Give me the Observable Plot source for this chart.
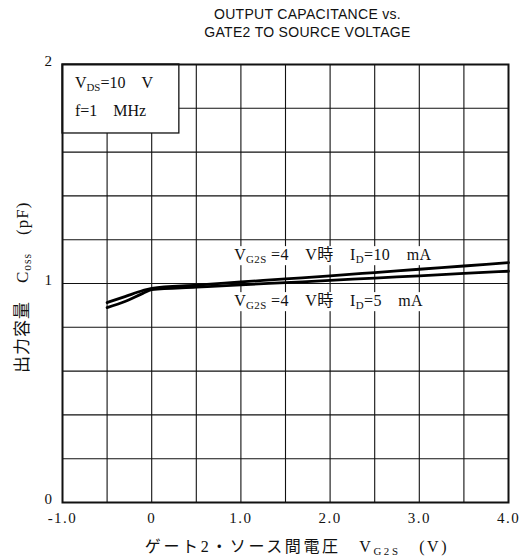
<!DOCTYPE html>
<html>
<head>
<meta charset="utf-8">
<script src="https://cdn.jsdelivr.net/npm/d3@7"></script>
<script src="https://cdn.jsdelivr.net/npm/@observablehq/plot@0.6"></script>
<style>
  body { margin: 0; background: #fff; }
  #title { font-family: "Liberation Sans", Arial, sans-serif; font-size: 14px; line-height: 18px;
           width: 415px; padding-left: 100px; padding-top: 5px; height: 41px; text-align: center; color: #111; letter-spacing: 0.3px; }
</style>
</head>
<body>
<div id="title">OUTPUT CAPACITANCE vs.<br>GATE2 TO SOURCE VOLTAGE</div>
<div id="chart"></div>
<script>
// Data
const vg2s   = [-0.5, -0.3, -0.1, 0, 0.5, 1.0, 1.5, 2.0, 2.5, 3.0, 3.5, 4.0];
const coss10 = [0.913, 0.940, 0.968, 0.978, 0.993, 1.007, 1.021, 1.035, 1.050, 1.065, 1.080, 1.095];
const coss5  = [0.890, 0.918, 0.955, 0.972, 0.983, 0.994, 1.004, 1.014, 1.025, 1.035, 1.046, 1.056];
const xTicks = [-1, 0, 1, 2, 3, 4];
const xTickLabels = ["-1.0", "0", "1.0", "2.0", "3.0", "4.0"];
const yTicks = [0, 1, 2];
const yTickLabels = ["0", "1", "2"];
const xGrid = [-0.5, 0, 0.5, 1, 1.5, 2, 2.5, 3, 3.5];
const yGrid = [0.2, 0.4, 0.6, 0.8, 1.0, 1.2, 1.4, 1.6, 1.8];
const seriesNames = ["I_D=10 mA", "I_D=5 mA"];

const rows = [];
vg2s.forEach((v, i) => rows.push({v, c: coss10[i], s: seriesNames[0]}));
vg2s.forEach((v, i) => rows.push({v, c: coss5[i], s: seriesNames[1]}));

const serif = "'Liberation Serif', 'Times New Roman', 'Noto Sans CJK JP', serif";
const boxSpan = {x1: -1, x2: 0.31, y1: 1.685, y2: 2};

const plot = Plot.plot({
  width: 521, height: 510,
  marginTop: 18, marginBottom: 54, marginLeft: 62, marginRight: 13,
  style: {fontFamily: serif, fontSize: "14px", color: "#111", background: "white"},
  x: {domain: [-1, 4]},
  y: {domain: [0, 2]},
  marks: [
    Plot.gridX(xGrid, {stroke: "#111", strokeOpacity: 1, strokeWidth: 1.1}),
    Plot.gridY(yGrid, {stroke: "#111", strokeOpacity: 1, strokeWidth: 1.1}),
    Plot.rect([boxSpan], {x1: "x1", x2: "x2", y1: "y1", y2: "y2", fill: "white", stroke: "#111", strokeWidth: 1.3}),
    Plot.line(rows, {x: "v", y: "c", z: "s", stroke: "#000", strokeWidth: 2.8, curve: "monotone-x"}),
    Plot.frame({stroke: "#111", strokeWidth: 2}),
    Plot.axisX(xTicks, {tickSize: 0, tickPadding: 10, tickFormat: (d, i) => xTickLabels[i], label: null, fontSize: 15, fontFamily: serif}),
    Plot.axisY(yTicks, {tickSize: 0, tickPadding: 9, dy: -3, tickFormat: (d, i) => yTickLabels[i], label: null, fontSize: 15, fontFamily: serif})
  ]
});
document.getElementById("chart").appendChild(plot);

const svg = d3.select(plot);
svg.selectAll("g[aria-label='x-axis tick label'] text, g[aria-label='y-axis tick label'] text").attr("letter-spacing", "1.5px");
const sx = plot.scale("x"), sy = plot.scale("y");

function rich(g, parts, attrs) {
  const t = g.append("text").attr("font-family", serif).attr("fill", "#111").attr("text-anchor", "start");
  Object.entries(attrs).forEach(([k, v]) => t.attr(k, v));
  let prevSub = false;
  parts.forEach(([str, sub]) => {
    const ts = t.append("tspan").text(str);
    if (sub) ts.attr("font-size", "0.68em").attr("dy", prevSub ? null : "0.28em");
    else if (prevSub) ts.attr("dy", "-0.19em");
    prevSub = !!sub;
  });
  return t;
}

const g = svg.append("g");
// Condition box
rich(g, [["V"], ["DS", true], ["=10\u2003V"]], {x: sx.apply(-0.855), y: sy.apply(1.915), "font-size": 16, dy: "0.35em"});
rich(g, [["f=1\u2003MHz"]], {x: sx.apply(-0.855), y: sy.apply(1.79), "font-size": 16, dy: "0.35em"});
// Series labels with white backing
function backed(parts, attrs) {
  const bg = g.append("rect").attr("fill", "white");
  const t = rich(g, parts, attrs);
  const b = t.node().getBBox();
  bg.attr("x", b.x - 2).attr("y", b.y).attr("width", b.width + 4).attr("height", b.height);
  return t;
}
backed([["V"], ["G2S", true], [" =4\u2003V時\u2003I"], ["D", true], ["=10\u2003mA"]],
  {x: sx.apply(0.93), y: sy.apply(1.13), "font-size": 16, dy: "0.35em", "letter-spacing": "0.4px"});
backed([["V"], ["G2S", true], [" =4\u2003V時\u2003I"], ["D", true], ["=5\u2003mA"]],
  {x: sx.apply(0.93), y: sy.apply(0.92), "font-size": 16, dy: "0.35em", "letter-spacing": "0.4px"});
// Axis titles
rich(g, [["出力容量\u2003C"], ["oss", true], ["\u2003(pF)"]],
  {transform: `translate(22,${sy.apply(0.98)}) rotate(-90)`, "text-anchor": "middle", "font-size": 17, dy: "0.35em", "letter-spacing": "1px"});
rich(g, [["ゲート2・ソース間電圧\u2003V"], ["G2S", true], ["\u2003(V)"]],
  {x: 297, y: 500, "text-anchor": "middle", "font-size": 16, dy: "0.35em", "letter-spacing": "2.6px"});
</script>
</body>
</html>
